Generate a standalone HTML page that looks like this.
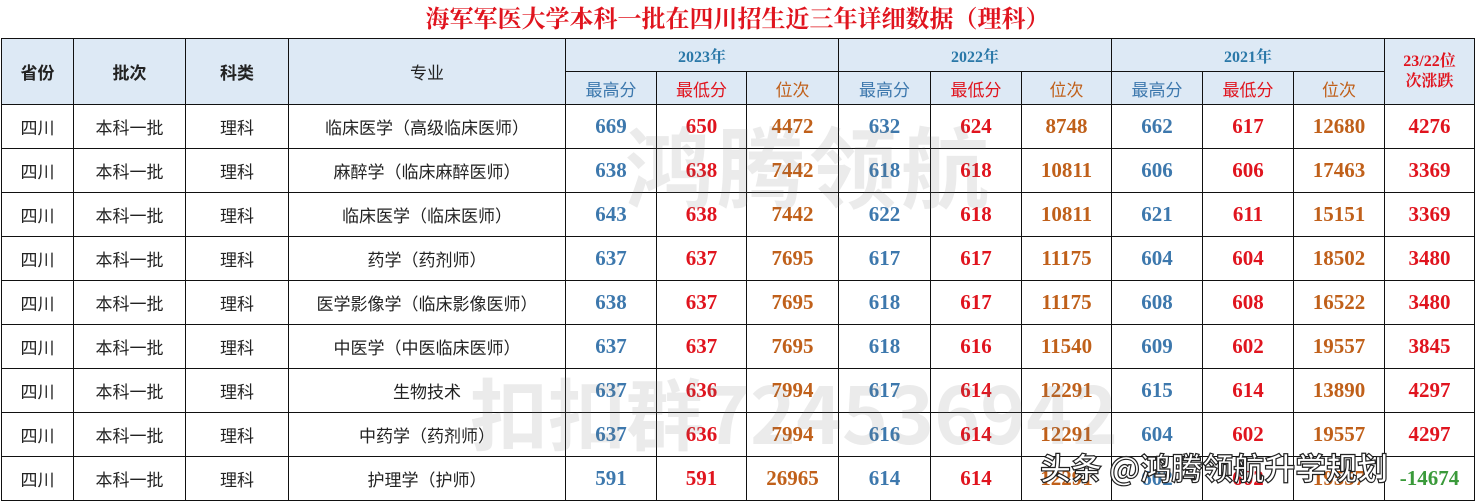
<!DOCTYPE html>
<html><head><meta charset="utf-8"><style>
body{margin:0;width:1475px;height:501px;overflow:hidden;background:#fff;position:relative;font-family:"Liberation Sans","Noto Sans CJK SC",sans-serif}
.title{position:absolute;left:0;top:0;width:1475px;height:38px;line-height:40px;text-align:center;color:#e0141e;font-weight:bold;font-size:24px;font-family:"Liberation Serif","Noto Serif CJK SC",serif}
table{position:absolute;left:1px;top:38px;border-collapse:collapse;table-layout:fixed}
td{border:1.5px solid #111;text-align:center;padding:0;overflow:hidden;white-space:nowrap}
.h td{background:#dde9f5}
.hb{font-weight:bold;font-size:17px;color:#222}
.y{color:#2a78a8!important;font-weight:bold;font-size:16px;font-family:"Liberation Serif","Noto Serif CJK SC",serif}
td.b{color:#3d78ad}td.r{color:#e0141e}td.o{color:#c0601a}td.g{color:#3a9a3a}
.sub td{font-size:17px}
.d{height:44px}
.d td{font-size:17px;color:#222}
.d td.n{font-family:"Liberation Serif",serif;font-weight:bold;font-size:21px}
.d td.b{color:#3d78ad}.d td.r{color:#e0141e}.d td.o{color:#c0601a}.d td.g{color:#3a9a3a}
.wm{position:absolute;color:rgba(120,120,120,0.15);font-weight:bold;font-family:"Noto Sans CJK SC",sans-serif;white-space:nowrap}
.tt{position:absolute;left:1040px;top:444px;font-size:31px;color:#fff;font-family:"Noto Sans CJK SC",sans-serif;font-weight:bold;-webkit-text-stroke:1.2px #222;white-space:nowrap}
</style></head><body>
<div class="title">海军军医大学本科一批在四川招生近三年详细数据（理科）</div>
<table>
<colgroup><col style="width:72px"><col style="width:112px"><col style="width:103px"><col style="width:277px"><col style="width:91px"><col style="width:90px"><col style="width:92px"><col style="width:92px"><col style="width:91px"><col style="width:90px"><col style="width:91px"><col style="width:91px"><col style="width:91px"><col style="width:90px"></colgroup>
<tr class="h" style="height:33px"><td rowspan="2" class="hb">省份</td><td rowspan="2" class="hb">批次</td><td rowspan="2" class="hb">科类</td><td rowspan="2" style="font-size:17px;color:#222">专业</td><td colspan="3" class="y">2023年</td><td colspan="3" class="y">2022年</td><td colspan="3" class="y">2021年</td><td rowspan="2" class="r" style="font-weight:bold;font-size:16px;line-height:20px;font-family:'Liberation Serif','Noto Serif CJK SC',serif">23/22位<br>次涨跌</td></tr>
<tr class="h sub" style="height:33px"><td class="b">最高分</td><td class="r">最低分</td><td class="o">位次</td><td class="b">最高分</td><td class="r">最低分</td><td class="o">位次</td><td class="b">最高分</td><td class="r">最低分</td><td class="o">位次</td></tr>
<tr class="d"><td>四川</td><td>本科一批</td><td>理科</td><td>临床医学（高级临床医师）</td><td class="n b">669</td><td class="n r">650</td><td class="n o">4472</td><td class="n b">632</td><td class="n r">624</td><td class="n o">8748</td><td class="n b">662</td><td class="n r">617</td><td class="n o">12680</td><td class="n r">4276</td></tr>
<tr class="d"><td>四川</td><td>本科一批</td><td>理科</td><td>麻醉学（临床麻醉医师）</td><td class="n b">638</td><td class="n r">638</td><td class="n o">7442</td><td class="n b">618</td><td class="n r">618</td><td class="n o">10811</td><td class="n b">606</td><td class="n r">606</td><td class="n o">17463</td><td class="n r">3369</td></tr>
<tr class="d"><td>四川</td><td>本科一批</td><td>理科</td><td>临床医学（临床医师）</td><td class="n b">643</td><td class="n r">638</td><td class="n o">7442</td><td class="n b">622</td><td class="n r">618</td><td class="n o">10811</td><td class="n b">621</td><td class="n r">611</td><td class="n o">15151</td><td class="n r">3369</td></tr>
<tr class="d"><td>四川</td><td>本科一批</td><td>理科</td><td>药学（药剂师）</td><td class="n b">637</td><td class="n r">637</td><td class="n o">7695</td><td class="n b">617</td><td class="n r">617</td><td class="n o">11175</td><td class="n b">604</td><td class="n r">604</td><td class="n o">18502</td><td class="n r">3480</td></tr>
<tr class="d"><td>四川</td><td>本科一批</td><td>理科</td><td>医学影像学（临床影像医师）</td><td class="n b">638</td><td class="n r">637</td><td class="n o">7695</td><td class="n b">618</td><td class="n r">617</td><td class="n o">11175</td><td class="n b">608</td><td class="n r">608</td><td class="n o">16522</td><td class="n r">3480</td></tr>
<tr class="d"><td>四川</td><td>本科一批</td><td>理科</td><td>中医学（中医临床医师）</td><td class="n b">637</td><td class="n r">637</td><td class="n o">7695</td><td class="n b">618</td><td class="n r">616</td><td class="n o">11540</td><td class="n b">609</td><td class="n r">602</td><td class="n o">19557</td><td class="n r">3845</td></tr>
<tr class="d"><td>四川</td><td>本科一批</td><td>理科</td><td>生物技术</td><td class="n b">637</td><td class="n r">636</td><td class="n o">7994</td><td class="n b">617</td><td class="n r">614</td><td class="n o">12291</td><td class="n b">615</td><td class="n r">614</td><td class="n o">13890</td><td class="n r">4297</td></tr>
<tr class="d"><td>四川</td><td>本科一批</td><td>理科</td><td>中药学（药剂师）</td><td class="n b">637</td><td class="n r">636</td><td class="n o">7994</td><td class="n b">616</td><td class="n r">614</td><td class="n o">12291</td><td class="n b">604</td><td class="n r">602</td><td class="n o">19557</td><td class="n r">4297</td></tr>
<tr class="d"><td>四川</td><td>本科一批</td><td>理科</td><td>护理学（护师）</td><td class="n b">591</td><td class="n r">591</td><td class="n o">26965</td><td class="n b">614</td><td class="n r">614</td><td class="n o">12291</td><td class="n b">602</td><td class="n r">602</td><td class="n o">19557</td><td class="n g">-14674</td></tr>
</table>
<div class="wm" style="left:625px;top:100px;font-size:88px;letter-spacing:4px">鸿腾领航</div>
<div class="wm" style="left:470px;top:355px;font-size:78px">扣扣群724536942</div>
<div class="tt">头条 @鸿腾领航升学规划</div>
</body></html>
